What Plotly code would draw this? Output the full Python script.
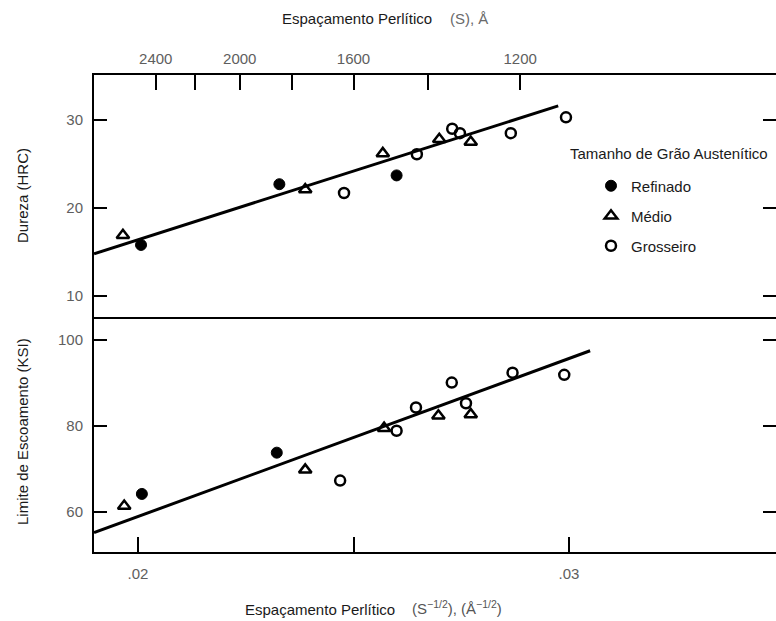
import numpy as np
import plotly.graph_objects as go

# ---------------- data ----------------
# x = pearlite spacing S^(-1/2) in Å^(-1/2)
top_refinado_x = [0.02007, 0.02328, 0.02600]
top_refinado_y = [15.8, 22.7, 23.7]
top_medio_x = [0.01965, 0.02388, 0.02568, 0.02699, 0.02772]
top_medio_y = [16.9, 22.1, 26.2, 27.8, 27.5]
top_grosseiro_x = [0.02478, 0.02647, 0.02729, 0.02747, 0.02865, 0.02993]
top_grosseiro_y = [21.7, 26.1, 29.0, 28.5, 28.5, 30.3]
top_fit_x = [0.01898, 0.02975]
top_fit_y = [14.8, 31.6]

bot_refinado_x = [0.02009, 0.02322]
bot_refinado_y = [64.2, 73.8]
bot_medio_x = [0.01968, 0.02388, 0.02571, 0.02697, 0.02772]
bot_medio_y = [61.4, 69.8, 79.5, 82.4, 82.7]
bot_grosseiro_x = [0.02469, 0.02600, 0.02645, 0.02728, 0.02761, 0.02869, 0.02989]
bot_grosseiro_y = [67.3, 78.9, 84.3, 90.1, 85.3, 92.4, 91.9]
bot_fit_x = [0.01898, 0.03049]
bot_fit_y = [55.2, 97.5]

# tick definitions
bottom_tickvals = [0.02, 0.03]
bottom_ticktext = [".02", ".03"]
bottom_minor = [0.025]
top_S_major = [2400, 2000, 1600, 1200]
top_S_minor = [2200, 1800, 1400]
hardness_ticks = [10, 20, 30]
yield_ticks = [60, 80, 100]

series_names = ["Refinado", "Médio", "Grosseiro"]
legend_title = "Tamanho de Grão Austenítico"

# ---------------- styling ----------------
FONT = "Liberation Sans, Arial, sans-serif"
TICKC = "#5e5e5e"
TITLEC = "#1a1a1a"
LW = 2

L, R, T, B = 94, 776, 75, 552  # plot area in pixels
W, H = 776, 621

fig = go.Figure()

def markers(kind):
    if kind == 0:
        return dict(symbol="circle", size=11, color="black", line=dict(color="black", width=1))
    if kind == 1:
        return dict(symbol="triangle-up-open", size=11, color="black", line=dict(color="black", width=2.5))
    return dict(symbol="circle-open", size=10, color="black", line=dict(color="black", width=2.5))

# regression lines
fig.add_trace(go.Scatter(x=top_fit_x, y=top_fit_y, mode="lines", line=dict(color="black", width=3),
                         xaxis="x", yaxis="y", showlegend=False, hoverinfo="skip"))
fig.add_trace(go.Scatter(x=bot_fit_x, y=bot_fit_y, mode="lines", line=dict(color="black", width=3),
                         xaxis="x", yaxis="y2", showlegend=False, hoverinfo="skip"))

top_sets = [(top_refinado_x, top_refinado_y), (top_medio_x, top_medio_y), (top_grosseiro_x, top_grosseiro_y)]
bot_sets = [(bot_refinado_x, bot_refinado_y), (bot_medio_x, bot_medio_y), (bot_grosseiro_x, bot_grosseiro_y)]
legend_ids = ["legend", "legend2", "legend3"]

for i, (xs, ys) in enumerate(top_sets):
    fig.add_trace(go.Scatter(x=xs, y=ys, mode="markers", marker=markers(i), name=series_names[i],
                             xaxis="x", yaxis="y", legend=legend_ids[i], showlegend=True))
for i, (xs, ys) in enumerate(bot_sets):
    fig.add_trace(go.Scatter(x=xs, y=ys, mode="markers", marker=markers(i), name=series_names[i],
                             xaxis="x", yaxis="y2", showlegend=False))

# empty helper traces so that the decorative axes are drawn
for xa, ya in [("x2", "y"), ("x3", "y"), ("x", "y3"), ("x", "y4")]:
    fig.add_trace(go.Scatter(x=[None], y=[None], mode="markers", xaxis=xa, yaxis=ya,
                             showlegend=False, hoverinfo="skip"))

XR = [0.018979, 0.034803]
Y1R = [7.61, 35.11]
Y2R = [50.7, 105.35]
SPLIT = (B - 317) / (B - T)

common = dict(showgrid=False, zeroline=False, linecolor="black", linewidth=LW,
              tickcolor="black", tickwidth=LW, tickfont=dict(family=FONT, size=15, color=TICKC))

fig.update_layout(
    width=W, height=H,
    margin=dict(l=L, r=W - R, t=T, b=H - B, autoexpand=False),
    paper_bgcolor="white", plot_bgcolor="white",
    font=dict(family=FONT, size=15, color=TITLEC),
    xaxis=dict(domain=[0, 1], anchor="y2", range=XR, tickmode="array", tickvals=bottom_tickvals,
               ticktext=bottom_ticktext, ticks="inside", ticklen=15, showline=True,
               ticklabelstandoff=7,
               minor=dict(tickmode="array", tickvals=bottom_minor, ticks="inside", ticklen=15,
                          tickwidth=LW, tickcolor="black", showgrid=False),
               **common),
    xaxis2=dict(overlaying="x", anchor="y", side="top", range=XR, tickmode="array",
                tickvals=[1 / np.sqrt(s) for s in top_S_major], ticktext=[str(s) for s in top_S_major],
                ticks="inside", ticklen=15, showline=True, ticklabelstandoff=3,
                minor=dict(tickmode="array", tickvals=[1 / np.sqrt(s) for s in top_S_minor],
                           ticks="inside", ticklen=15, tickwidth=LW, tickcolor="black",
                           showgrid=False),
                **common),
    xaxis3=dict(overlaying="x", anchor="y", side="bottom", range=XR, showline=True,
                ticks="", showticklabels=False, **common),
    yaxis=dict(domain=[SPLIT, 1], anchor="x", range=Y1R, tickmode="array", tickvals=hardness_ticks,
               ticks="inside", ticklen=13, showline=True, ticklabelstandoff=6, **common),
    yaxis2=dict(domain=[0, SPLIT], anchor="x", range=Y2R, tickmode="array", tickvals=yield_ticks,
                ticks="inside", ticklen=13, showline=True, ticklabelstandoff=6, **common),
    yaxis3=dict(overlaying="y", side="right", anchor="x", range=Y1R, tickmode="array",
                tickvals=hardness_ticks, ticks="inside", ticklen=13, showline=False,
                showticklabels=False, **common),
    yaxis4=dict(overlaying="y2", side="right", anchor="x", range=Y2R, tickmode="array",
                tickvals=yield_ticks, ticks="inside", ticklen=13, showline=False,
                showticklabels=False, **common),
)

def px2paper(px, py):
    return (px - L) / (R - L), (B - py) / (B - T)

# individual legends for exact placement (inside the plot area)
leg_y = [186, 216, 246]
for lid, py in zip(legend_ids, leg_y):
    lx, ly = px2paper(591, py)
    fig.update_layout({lid: dict(x=lx, xref="paper", xanchor="left",
                                 y=ly, yref="paper", yanchor="middle",
                                 bgcolor="rgba(0,0,0,0)", borderwidth=0,
                                 font=dict(family=FONT, size=15, color=TITLEC))})

def ann_px(text, px, py, color=TITLEC, angle=0, xanchor="center"):
    x, y = px2paper(px, py)
    fig.add_annotation(text=text, x=x, y=y, xref="paper", yref="paper",
                       showarrow=False, textangle=angle, xanchor=xanchor, yanchor="middle",
                       font=dict(family=FONT, size=15, color=color))

ann_px("Espaçamento Perlítico", 280, 18, xanchor="left")
ann_px("(S), Å", 448, 18, color="#6a6a6a", xanchor="left")
ann_px("Espaçamento Perlítico", 243, 609, xanchor="left")
ann_px("(S<sup>−1/2</sup>), (Å<sup>−1/2</sup>)", 410, 607, color="#555555", xanchor="left")
ann_px("Dureza (HRC)", 22, 196, angle=-90)
ann_px("Limite de Escoamento (KSI)", 22, 432, angle=-90)
ann_px(legend_title, 568, 153, xanchor="left")

fig.write_html("out.html")
